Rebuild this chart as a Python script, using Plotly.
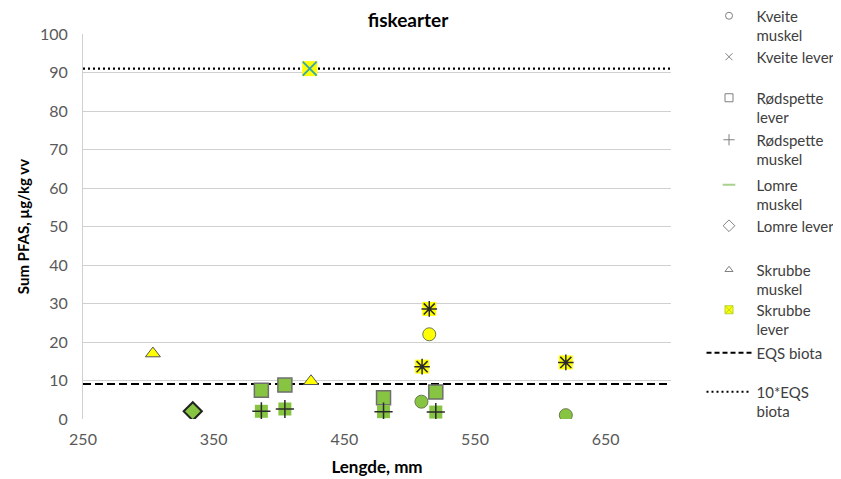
import plotly.graph_objects as go

EQS = 9.1
EQS10 = 91

# Data
kveite_muskel_x = [515, 509, 619.5]
kveite_muskel_y = [22, 4.5, 1.0]
kveite_lever_x = [423.5]
kveite_lever_y = [91]
rodspette_lever_x = [386.5, 404.5, 480, 520]
rodspette_lever_y = [7.5, 8.8, 5.5, 7.0]
rodspette_muskel_x = [386.5, 404.5, 480, 520]
rodspette_muskel_y = [2.0, 2.6, 1.9, 1.8]
lomre_muskel_x = []
lomre_muskel_y = []
lomre_lever_x = [334]
lomre_lever_y = [2.0]
skrubbe_muskel_x = [303.5, 424.5]
skrubbe_muskel_y = [17, 9.8]
skrubbe_lever_x = [515, 509.5, 619.5]
skrubbe_lever_y = [28.6, 13.6, 14.7]
x_range = [250, 700]
x_ticks = [250, 350, 450, 550, 650]

GREEN = "#86c441"
YELLOW = "#ffff00"
FONT = "Lato"


def cols(ys):
    return [YELLOW if v > EQS else GREEN for v in ys]


fig = go.Figure()

# EQS lines
fig.add_trace(go.Scatter(x=x_range, y=[EQS, EQS], mode="lines",
                         line=dict(color="black", width=2, dash="8px,4px"),
                         showlegend=False, hoverinfo="skip"))
fig.add_trace(go.Scatter(x=x_range, y=[EQS10, EQS10], mode="lines",
                         line=dict(color="black", width=2.2, dash="2px,3px"),
                         showlegend=False, hoverinfo="skip"))

# Kveite muskel
fig.add_trace(go.Scatter(x=kveite_muskel_x, y=kveite_muskel_y, mode="markers",
                         marker=dict(symbol="circle", size=13, color=cols(kveite_muskel_y),
                                     line=dict(color="#6a7a50", width=1)),
                         showlegend=False))
# Kveite lever
fig.add_trace(go.Scatter(x=kveite_lever_x, y=kveite_lever_y, mode="markers",
                         marker=dict(symbol="square", size=15, color=cols(kveite_lever_y), line=dict(width=0)),
                         showlegend=False))
fig.add_trace(go.Scatter(x=kveite_lever_x, y=kveite_lever_y, mode="markers",
                         marker=dict(symbol="x-thin-open", size=14, color="#3aa8a8", line=dict(width=2)),
                         showlegend=False))
# Rodspette lever
fig.add_trace(go.Scatter(x=rodspette_lever_x, y=rodspette_lever_y, mode="markers",
                         marker=dict(symbol="square", size=14, color=cols(rodspette_lever_y),
                                     line=dict(color="#6f6f6f", width=1.5)),
                         showlegend=False))
# Rodspette muskel
fig.add_trace(go.Scatter(x=rodspette_muskel_x, y=rodspette_muskel_y, mode="markers",
                         marker=dict(symbol="square", size=13, color=cols(rodspette_muskel_y), line=dict(width=0)),
                         showlegend=False))
fig.add_trace(go.Scatter(x=rodspette_muskel_x, y=rodspette_muskel_y, mode="markers",
                         marker=dict(symbol="cross-thin-open", size=13, color="#2a2a2a", line=dict(width=1.5)),
                         showlegend=False))
# Lomre lever
fig.add_trace(go.Scatter(x=lomre_lever_x, y=lomre_lever_y, mode="markers",
                         marker=dict(symbol="diamond", size=14, color=cols(lomre_lever_y),
                                     line=dict(color="#222222", width=2)),
                         showlegend=False))
# Skrubbe muskel
fig.add_trace(go.Scatter(x=skrubbe_muskel_x, y=skrubbe_muskel_y, mode="markers",
                         marker=dict(symbol="triangle-up", size=13, color=cols(skrubbe_muskel_y),
                                     line=dict(color="#555555", width=1)),
                         showlegend=False))
# Skrubbe lever
fig.add_trace(go.Scatter(x=skrubbe_lever_x, y=skrubbe_lever_y, mode="markers",
                         marker=dict(symbol="square", size=14, color=cols(skrubbe_lever_y), line=dict(width=0)),
                         showlegend=False))
fig.add_trace(go.Scatter(x=skrubbe_lever_x, y=skrubbe_lever_y, mode="markers",
                         marker=dict(symbol="asterisk-open", size=13, color="#2a2a2a", line=dict(width=1.5)),
                         showlegend=False))

# Legend entries (one legend each so they can be placed like the original)
legend_items = [
    ("Kveite<br>muskel", dict(mode="markers", marker=dict(symbol="circle-open", size=7, color="#808080", line=dict(width=1))), 15),
    ("Kveite lever", dict(mode="markers", marker=dict(symbol="x-thin-open", size=7, color="#808080", line=dict(width=1))), 56),
    ("Rødspette<br>lever", dict(mode="markers", marker=dict(symbol="square-open", size=8, color="#808080", line=dict(width=1))), 97),
    ("Rødspette<br>muskel", dict(mode="markers", marker=dict(symbol="cross-thin-open", size=8, color="#808080", line=dict(width=1))), 139),
    ("Lomre<br>muskel", dict(mode="markers", marker=dict(symbol="line-ew-open", size=9, color="#a9d18e", line=dict(width=2))), 184),
    ("Lomre lever", dict(mode="markers", marker=dict(symbol="diamond-open", size=9, color="#808080", line=dict(width=1))), 225),
    ("Skrubbe<br>muskel", dict(mode="markers", marker=dict(symbol="triangle-up-open", size=7, color="#808080", line=dict(width=1))), 269),
    ("Skrubbe<br>lever", dict(mode="markers", marker=dict(symbol="square-x", size=8, color=YELLOW, line=dict(color="#b5d334", width=1))), 309),
    ("EQS biota", dict(mode="lines", line=dict(color="black", width=2, dash="5px,3px")), 352),
    ("10*EQS<br>biota", dict(mode="lines", line=dict(color="black", width=2, dash="2px,3px")), 391),
]

# page body adds an 8px offset; margins compensate so the plot sits where the original does
L, T = 75, 26
W, H = 841, 479
PW, PH = 588, 385
R = W - L - PW
B = H - T - PH

layout_legends = {}
for i, (name, style, ypix) in enumerate(legend_items):
    key = "legend" if i == 0 else f"legend{i+1}"
    fig.add_trace(go.Scatter(x=[None], y=[None], name=name, legend=key, showlegend=True, **style))
    layout_legends[key] = dict(
        x=618.5 / PW, xanchor="left",
        y=(H - B - (ypix - 23.5)) / PH, yanchor="top",
        bgcolor="rgba(0,0,0,0)", borderwidth=0,
        font=dict(family=FONT, size=15, color="#404040"),
        valign="top", itemwidth=45,
    )

fig.update_layout(
    width=W, height=H,
    margin=dict(l=L, r=R, t=T, b=B, autoexpand=False),
    plot_bgcolor="white", paper_bgcolor="white",
    font=dict(family=FONT, color="#595959"),
    title=dict(text="<b>fiskearter</b>", x=(408 - 8 - L) / PW, xref="paper", xanchor="center",
               y=1, yref="container", yanchor="top", pad=dict(t=6, b=0),
               font=dict(family=FONT, size=19, color="black")),
    **layout_legends,
)

fig.update_xaxes(range=x_range, tickvals=x_ticks, showgrid=False, zeroline=False,
                 showline=False, ticks="outside", ticklen=6, tickcolor="rgba(0,0,0,0)",
                 tickfont=dict(family=FONT, size=16, color="#595959"),
                 title=dict(text="<b>Lengde, mm</b>", font=dict(family=FONT, size=17, color="black"), standoff=13))
fig.update_yaxes(range=[0, 100], dtick=10, showgrid=True, gridcolor="#d0d0d0", gridwidth=1,
                 zeroline=False, showline=True, linecolor="#d0d0d0",
                 ticks="outside", ticklen=11, tickcolor="rgba(0,0,0,0)",
                 tickfont=dict(family=FONT, size=16, color="#595959"),
                 title=dict(text="<b>Sum PFAS, µg/kg vv</b>", font=dict(family=FONT, size=15, color="black"), standoff=6))

fig.write_html("out.html")
